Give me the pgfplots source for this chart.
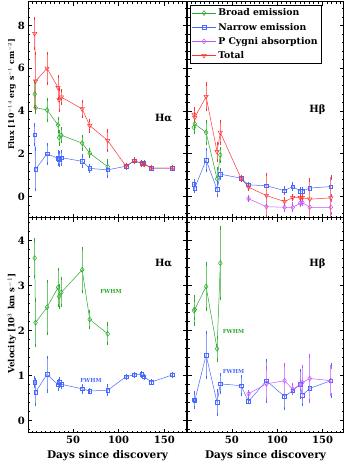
\documentclass[border=0pt]{standalone}
\usepackage{fontspec}
\setmainfont{DejaVu Serif}
\usepackage{pgfplots}
\pgfplotsset{compat=1.18}
\definecolor{cbroad}{RGB}{40,170,40}
\definecolor{cnarrow}{RGB}{70,105,255}
\definecolor{cpcyg}{RGB}{195,85,255}
\definecolor{ctotal}{RGB}{255,50,50}

\pgfplotsset{
  panel/.style={scale only axis, anchor=south west,
    axis line style={line width=1pt},
    tick align=inside, major tick length=4pt, minor tick length=2pt,
    every tick/.style={black, line width=0.8pt},
    xtick={50,100,150}, minor xtick={5,10,...,170},
    tick label style={font=\bfseries\fontsize{10}{12}\selectfont},
    /pgf/number format/assume math mode=true,
    label style={font=\bfseries},
    xlabel style={at={(axis description cs:0.5,-0.107)}, anchor=center},
  },
  fluxax/.style={panel, height=216pt, ymin=-1, ymax=9.1,
    ytick={0,2,4,6,8}, minor ytick={-0.8,-0.4,...,9.0}, xticklabels={}},
  velax/.style={panel, height=215pt, ymin=-0.27, ymax=4.5,
    ytick={0,1,2,3,4}, minor ytick={-0.2,0,...,4.4}},
  err/.style={error bars/y dir=both, error bars/y explicit,
    error bars/error bar style={line width=0.7pt, #1!65},
    error bars/error mark options={#1, mark size=1.6pt, line width=0.6pt}},
  broad/.style={cbroad, line width=0.5pt, mark=diamond, mark size=2.5pt, mark options={solid}, err=cbroad},
  narrow/.style={cnarrow, line width=0.5pt, mark=square, mark size=1.8pt, mark options={solid}, err=cnarrow},
  pcyg/.style={cpcyg, line width=0.5pt, mark=diamond, mark size=2.5pt, mark options={solid}, err=cpcyg},
  total/.style={ctotal, line width=0.5pt, mark=triangle, mark size=2.5pt, mark options={solid, rotate=180}, err=ctotal},
}

\begin{document}
\begin{tikzpicture}
\path[use as bounding box] (0pt,0pt) rectangle (351pt,463pt);

% ---- H alpha flux
\begin{axis}[fluxax, at={(28.3pt,245pt)}, width=158.4pt, xmin=1, xmax=174.5,
  ylabel={Flux [10$^{-14}$ erg s$^{-1}$ cm$^{-2}$]},
  ylabel style={at={(axis description cs:-0.103,0.574)}, anchor=center, font=\bfseries\fontsize{7.8}{9}\selectfont}]
\addplot[broad] table[x index=0, y index=1, y error index=2] {
8 4.80 0.6
9 4.16 0.2
21.5 4.05 0.5
33.6 3.35 0.3
34.7 2.76 0.3
37.2 2.87 0.3
60 2.50 0.3
68.3 2.03 0.15
88 1.40 0.3
};
\addplot[narrow] table[x index=0, y index=1, y error index=2] {
8 2.90 0.45
9 1.28 0.95
21.5 2.00 0.45
33.6 1.79 0.3
34.7 1.75 0.3
37.2 1.82 0.3
60 1.65 0.25
68.3 1.32 0.15
88 1.25 0.3
108 1.42 0.08
117 1.68 0.08
125.2 1.55 0.08
127.6 1.55 0.08
135.8 1.33 0.06
159 1.33 0.06
};
\addplot[total] table[x index=0, y index=1, y error index=2] {
8 7.62 0.7
9 5.40 1.3
21.5 6.00 0.7
33.6 5.10 0.5
34.7 4.52 0.5
37.2 4.65 0.3
60 4.10 0.35
68.3 3.32 0.25
88 2.62 0.45
108 1.42 0.08
117 1.67 0.08
125.2 1.55 0.08
127.6 1.52 0.08
135.8 1.33 0.06
159 1.33 0.06
};
\node[font=\bfseries] at (rel axis cs:0.854,0.463) {Hα};
\end{axis}

% ---- H beta flux
\begin{axis}[fluxax, at={(187.5pt,245pt)}, width=156pt, xmin=1, xmax=173,
  yticklabels={},
  legend style={at={(0.016,0.986)}, anchor=north west, draw=black, line width=0.6pt,
    font=\bfseries\fontsize{9.3}{11}\selectfont, inner sep=1.5pt, row sep=1.6pt,
    cells={anchor=west}},
  legend image code/.code={\draw[mark repeat=2, mark phase=2, line width=0.5pt] plot coordinates {(0pt,0pt) (12pt,0pt) (24pt,0pt)};}]
\addplot[broad] table[x index=0, y index=1, y error index=2] {
8 3.24 0.25
9 3.40 0.2
21.5 3.00 0.5
33.6 0.83 0.5
37.2 1.95 0.3
};
\addlegendentry{Broad emission}
\addplot[narrow] table[x index=0, y index=1, y error index=2] {
8 0.58 0.15
9 0.40 0.15
21.5 1.71 0.5
33.6 0.34 0.3
37.2 1.05 0.2
60 0.86 0.08
68.3 0.55 0.05
88 0.51 0.1
108 0.28 0.12
117 0.47 0.12
125.2 0.26 0.1
127.6 0.26 0.1
135.8 0.40 0.1
159 0.47 0.4
};
\addlegendentry{Narrow emission}
\addplot[pcyg] table[x index=0, y index=1, y error index=2] {
68.3 -0.10 0.08
88 -0.47 0.3
108 -0.50 0.15
117 -0.50 0.15
125.2 -0.31 0.1
127.6 -0.28 0.1
135.8 -0.50 0.3
159 -0.50 0.3
};
\addlegendentry{P Cygni absorption}
\addplot[total] table[x index=0, y index=1, y error index=2] {
8 3.85 0.25
9 3.70 0.2
21.5 4.67 0.6
33.6 2.10 0.4
37.2 3.00 0.5
60 0.86 0.08
68.3 0.44 0.1
88 0.05 1.0
108 -0.23 0.15
117 -0.05 0.1
125.2 -0.05 0.1
127.6 -0.05 0.1
135.8 -0.12 0.9
159 -0.06 1.0
};
\addlegendentry{Total}
\node[font=\bfseries] at (rel axis cs:0.833,0.5) {Hβ};
\end{axis}

% ---- H alpha velocity
\begin{axis}[velax, at={(28.3pt,30pt)}, width=158.4pt, xmin=1, xmax=174.5,
  xlabel={Days since discovery},
  ylabel={Velocity [10$^{3}$ km s$^{-1}$]},
  ylabel style={at={(axis description cs:-0.103,0.51)}, anchor=center, font=\bfseries\fontsize{8.5}{9}\selectfont},
  xlabel style={font=\bfseries\fontsize{10.5}{12}\selectfont}]
\addplot[broad] table[x index=0, y index=1, y error index=2] {
8 3.61 0.4
9 2.18 0.5
21.5 2.52 0.58
33.6 2.96 0.4
34.7 2.76 0.25
37.2 2.85 0.3
60 3.35 0.48
68.3 2.25 0.18
88 1.93 0.22
};
\addplot[narrow] table[x index=0, y index=1, y error index=2] {
8 0.86 0.1
9 0.64 0.28
21.5 1.03 0.37
33.6 0.80 0.1
34.7 0.85 0.08
37.2 0.81 0.07
60 0.71 0.08
68.3 0.66 0.04
88 0.68 0.1
108 0.98 0.03
117 1.02 0.03
125.2 1.03 0.05
127.6 0.98 0.03
135.8 0.86 0.03
159 1.02 0.03
};
\node[font=\bfseries] at (rel axis cs:0.854,0.79) {Hα};
\node[font=\bfseries\fontsize{5.5}{6}\selectfont, text=cbroad] at (rel axis cs:0.522,0.66) {FWHM};
\node[font=\bfseries\fontsize{5.5}{6}\selectfont, text=cnarrow] at (rel axis cs:0.396,0.242) {FWHM};
\end{axis}

% ---- H beta velocity
\begin{axis}[velax, at={(187.5pt,30pt)}, width=156pt, xmin=1, xmax=173,
  yticklabels={},
  xlabel={Days since discovery},
  xlabel style={font=\bfseries\fontsize{10.5}{12}\selectfont}]
\addplot[broad] table[x index=0, y index=1, y error index=2] {
8 2.45 0.3
9 2.47 0.2
21.5 2.98 0.5
33.6 1.60 0.25
37.2 3.50 0.78
};
\addplot[narrow] table[x index=0, y index=1, y error index=2] {
8 0.47 0.15
9 0.45 0.15
21.5 1.46 0.5
33.6 0.41 0.27
37.2 0.82 0.2
60 0.78 0.2
68.3 0.43 0.03
88 0.89 0.45
108 0.54 0.27
117 0.67 0.07
125.2 0.81 0.3
127.6 0.57 0.2
135.8 0.72 0.3
159 0.89 0.35
};
\addplot[pcyg] table[x index=0, y index=1, y error index=2] {
68.3 0.60 0.05
88 0.82 0.35
108 0.89 0.35
117 0.70 0.1
125.2 0.80 0.1
127.6 0.85 0.35
135.8 0.94 0.5
159 0.89 0.3
};
\node[font=\bfseries] at (rel axis cs:0.833,0.786) {Hβ};
\node[font=\bfseries\fontsize{5.5}{6}\selectfont, text=cbroad] at (rel axis cs:0.295,0.474) {FWHM};
\node[font=\bfseries\fontsize{5.5}{6}\selectfont, text=cnarrow] at (rel axis cs:0.295,0.284) {FWHM};
\end{axis}
\end{tikzpicture}
\end{document}
